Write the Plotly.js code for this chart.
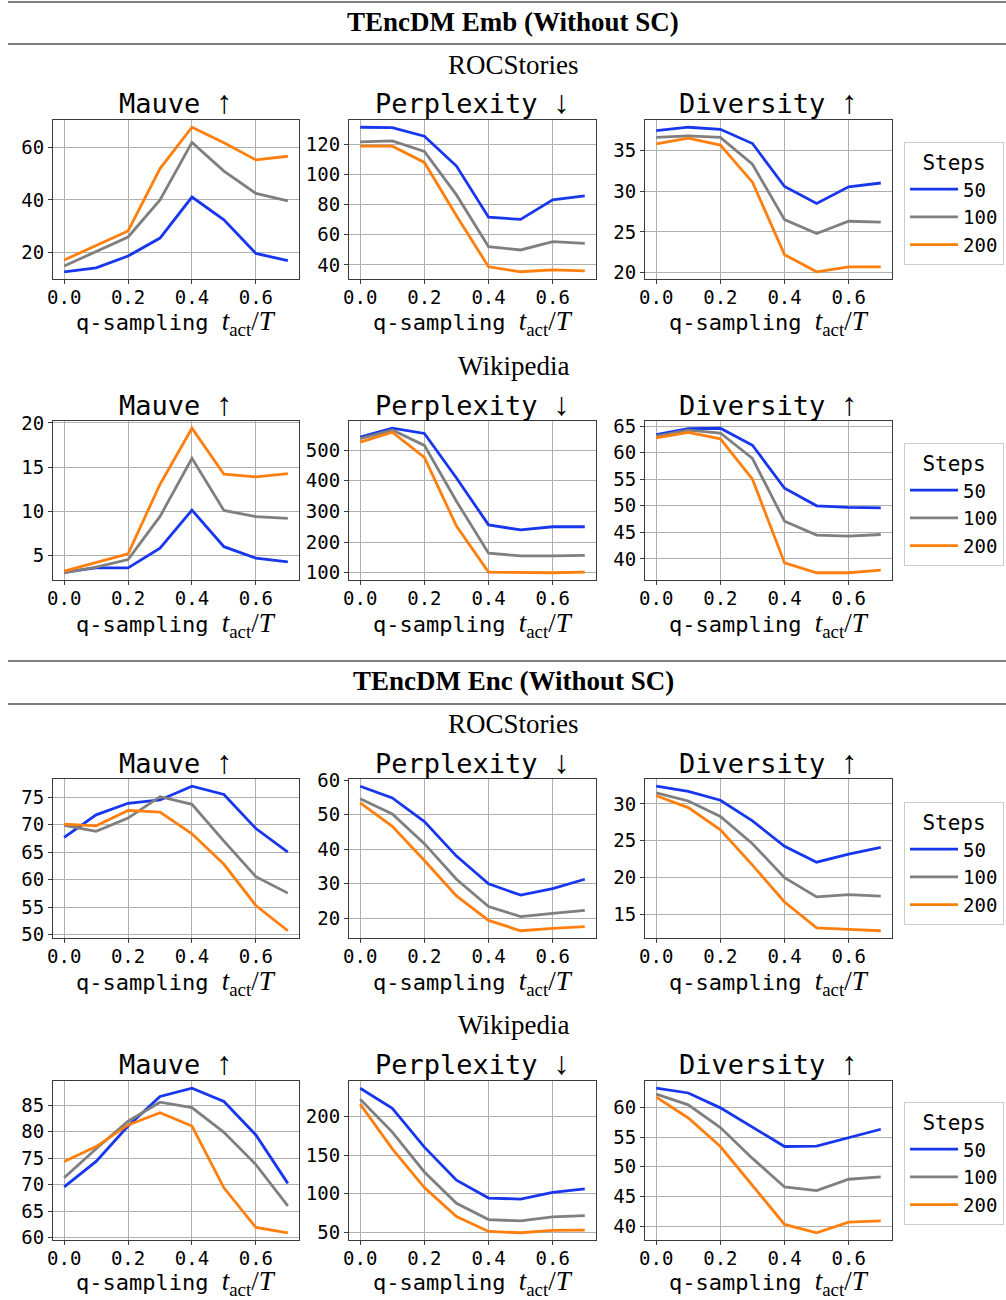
<!DOCTYPE html>
<html><head><meta charset="utf-8">
<script src="https://cdn.plot.ly/plotly-3.0.1.min.js"></script>
<style>body{margin:0;background:#fff}#chart{width:1006px;height:1300px}</style>
</head><body><div id="chart"></div>
<script>
// ---------- data ----------
const qSampling = [0.0, 0.1, 0.2, 0.3, 0.4, 0.5, 0.6, 0.7];
const stepLabels = ['50', '100', '200'];
const xTickVals = [0.0, 0.2, 0.4, 0.6];
const xTickText = ['0.0', '0.2', '0.4', '0.6'];

// TEncDM Emb - ROCStories
const embRocMauve50  = [12.5, 14.0, 18.5, 25.4, 41.1, 32.4, 19.5, 16.8];
const embRocMauve100 = [14.7, 20.4, 25.8, 40.0, 62.0, 51.0, 42.5, 39.6];
const embRocMauve200 = [17.0, 22.5, 28.1, 52.0, 67.8, 61.9, 55.3, 56.7];
const embRocPpl50  = [131.5, 131.2, 125.5, 105.7, 71.7, 70.2, 83.2, 85.8];
const embRocPpl100 = [121.8, 122.4, 115.4, 86.5, 52.1, 49.9, 55.4, 54.3];
const embRocPpl200 = [118.9, 118.9, 108.1, 72.6, 38.7, 35.4, 36.7, 36.0];
const embRocDiv50  = [37.44, 37.85, 37.6, 35.85, 30.57, 28.5, 30.53, 31.0];
const embRocDiv100 = [36.6, 36.8, 36.6, 33.3, 26.5, 24.8, 26.3, 26.2];
const embRocDiv200 = [35.8, 36.5, 35.65, 31.1, 22.2, 20.1, 20.7, 20.7];
// TEncDM Emb - Wikipedia
const embWikiMauve50  = [3.13, 3.6, 3.6, 5.83, 10.14, 6.0, 4.7, 4.29];
const embWikiMauve100 = [3.05, 3.7, 4.55, 9.43, 16.0, 10.1, 9.39, 9.2];
const embWikiMauve200 = [3.24, 4.2, 5.19, 13.06, 19.4, 14.2, 13.9, 14.26];
const embWikiPpl50  = [542, 571, 554, 409, 256, 239.5, 250, 250];
const embWikiPpl100 = [537, 565, 515, 333, 164, 155, 155, 157];
const embWikiPpl200 = [526, 558, 476, 252, 102, 100, 100, 102];
const embWikiDiv50  = [63.4, 64.5, 64.6, 61.4, 53.3, 50.0, 49.7, 49.6];
const embWikiDiv100 = [63.1, 64.25, 63.7, 58.9, 47.1, 44.5, 44.3, 44.6];
const embWikiDiv200 = [62.8, 63.8, 62.6, 55.0, 39.25, 37.4, 37.4, 37.9];
// TEncDM Enc - ROCStories
const encRocMauve50  = [67.7, 71.8, 73.9, 74.5, 77.0, 75.5, 69.3, 65.0];
const encRocMauve100 = [69.9, 68.8, 71.2, 75.1, 73.7, 67.0, 60.55, 57.55];
const encRocMauve200 = [70.1, 69.8, 72.6, 72.3, 68.35, 62.8, 55.3, 50.7];
const encRocPpl50  = [58.2, 54.8, 48.0, 38.0, 30.0, 26.7, 28.6, 31.3];
const encRocPpl100 = [54.6, 50.2, 41.6, 31.3, 23.4, 20.5, 21.4, 22.3];
const encRocPpl200 = [53.4, 46.6, 36.7, 26.5, 19.4, 16.4, 17.1, 17.6];
const encRocDiv50  = [32.4, 31.7, 30.5, 27.7, 24.25, 22.1, 23.2, 24.1];
const encRocDiv100 = [31.5, 30.4, 28.3, 24.6, 20.0, 17.4, 17.7, 17.5];
const encRocDiv200 = [31.1, 29.5, 26.5, 21.7, 16.7, 13.2, 13.0, 12.8];
// TEncDM Enc - Wikipedia
const encWikiMauve50  = [69.6, 74.4, 81.1, 86.7, 88.25, 85.75, 79.4, 70.25];
const encWikiMauve100 = [71.3, 76.8, 82.0, 85.6, 84.6, 79.9, 73.8, 66.0];
const encWikiMauve200 = [74.4, 77.2, 81.3, 83.6, 81.1, 69.4, 61.9, 60.9];
const encWikiPpl50  = [237, 211, 160.5, 117.5, 94.3, 93, 101.6, 106.3];
const encWikiPpl100 = [222.8, 180, 128.2, 87.4, 66.3, 64.6, 69.8, 71.5];
const encWikiPpl200 = [216.3, 158.3, 108, 70.2, 50.9, 49.2, 52.2, 52.6];
const encWikiDiv50  = [63.2, 62.4, 59.9, 56.7, 53.4, 53.45, 54.9, 56.3];
const encWikiDiv100 = [62.2, 60.4, 56.6, 51.4, 46.6, 46.0, 47.9, 48.3];
const encWikiDiv200 = [61.7, 58.2, 53.4, 46.9, 40.3, 38.9, 40.7, 40.9];

const metricNames = ['Mauve', 'Perplexity', 'Diversity'];
const metricArrows = ['↑', '↓', '↑'];
const blockTitles = ['TEncDM Emb (Without SC)', 'TEncDM Enc (Without SC)'];
const datasetTitles = ['ROCStories', 'Wikipedia', 'ROCStories', 'Wikipedia'];

// ---------- layout helpers ----------
const W = 1006, H = 1300;
const MONO = 'DejaVu Sans Mono';
const SERIF = 'Liberation Serif';
const lineColors = ['#1736ee', '#7f7f7f', '#ff7f0e'];
const colX = [[53, 299], [349, 596], [645, 892]];
const rowY = [[120, 279], [421, 580], [779, 938], [1081, 1240]];
const titleY = [102, 404, 762, 1063];
const xTitleY = [323, 625, 983, 1283];
const legendTop = [142, 443, 802, 1102];

const panels = [
  {row:0, col:0, s:[embRocMauve50, embRocMauve100, embRocMauve200], dtick:20},
  {row:0, col:1, s:[embRocPpl50, embRocPpl100, embRocPpl200], dtick:20},
  {row:0, col:2, s:[embRocDiv50, embRocDiv100, embRocDiv200], dtick:5},
  {row:1, col:0, s:[embWikiMauve50, embWikiMauve100, embWikiMauve200], dtick:5},
  {row:1, col:1, s:[embWikiPpl50, embWikiPpl100, embWikiPpl200], dtick:100},
  {row:1, col:2, s:[embWikiDiv50, embWikiDiv100, embWikiDiv200], dtick:5},
  {row:2, col:0, s:[encRocMauve50, encRocMauve100, encRocMauve200], dtick:5},
  {row:2, col:1, s:[encRocPpl50, encRocPpl100, encRocPpl200], dtick:10},
  {row:2, col:2, s:[encRocDiv50, encRocDiv100, encRocDiv200], dtick:5},
  {row:3, col:0, s:[encWikiMauve50, encWikiMauve100, encWikiMauve200], dtick:5},
  {row:3, col:1, s:[encWikiPpl50, encWikiPpl100, encWikiPpl200], dtick:50},
  {row:3, col:2, s:[encWikiDiv50, encWikiDiv100, encWikiDiv200], dtick:5}
];

const px = v => v / W;
const py = v => 1 - v / H;

const traces = [];
const layout = {
  width: W, height: H,
  margin: {l:0, r:0, t:0, b:0},
  paper_bgcolor: '#fff', plot_bgcolor: '#fff',
  font: {family: MONO, color: '#000'},
  annotations: [], shapes: []
};

const xTitleText = 'q-sampling <span style="font-family:\'Liberation Serif\';font-size:27px"><i>t</i><sub>act</sub>/<i>T</i></span>';

panels.forEach((p, i) => {
  const n = i + 1;
  const suf = n === 1 ? '' : String(n);
  const legName = p.row === 0 ? 'legend' : 'legend' + (p.row + 1);
  p.s.forEach((ys, k) => {
    const t = {
      x: qSampling, y: ys, type: 'scatter', mode: 'lines',
      xaxis: 'x' + suf, yaxis: 'y' + suf,
      name: stepLabels[k],
      line: {color: lineColors[k], width: 2.8},
      showlegend: p.col === 2
    };
    if (p.col === 2) t.legend = legName;
    traces.push(t);
  });
  const all = [].concat(...p.s);
  const mn = Math.min(...all), mx = Math.max(...all);
  const pad = (mx - mn) * 0.05;
  layout['xaxis' + suf] = {
    domain: [px(colX[p.col][0]), px(colX[p.col][1])],
    anchor: 'y' + suf,
    range: [-0.035, 0.735],
    tickvals: xTickVals, ticktext: xTickText,
    showgrid: true, gridcolor: '#b0b0b0', gridwidth: 1,
    zeroline: false, showline: true, mirror: true, linecolor: '#3a3a3a', linewidth: 1,
    ticks: 'outside', ticklen: 4, tickcolor: '#3a3a3a',
    ticklabelstandoff: -3,
    tickfont: {family: MONO, size: 19, color: '#000'}
  };
  layout['yaxis' + suf] = {
    domain: [py(rowY[p.row][1]), py(rowY[p.row][0])],
    anchor: 'x' + suf,
    range: [mn - pad, mx + pad],
    tick0: 0, dtick: p.dtick,
    showgrid: true, gridcolor: '#b0b0b0', gridwidth: 1,
    zeroline: false, showline: true, mirror: true, linecolor: '#3a3a3a', linewidth: 1,
    ticks: 'outside', ticklen: 4, tickcolor: '#3a3a3a',
    tickfont: {family: MONO, size: 19, color: '#000'}
  };
  const cx = px((colX[p.col][0] + colX[p.col][1]) / 2);
  layout.annotations.push({
    xref: 'paper', yref: 'paper', x: cx, y: py(titleY[p.row]),
    xanchor: 'center', yanchor: 'middle', showarrow: false,
    text: metricNames[p.col] + ' <span style="font-family:\'Liberation Serif\';font-size:32px">' + metricArrows[p.col] + '</span>',
    font: {family: MONO, size: 27, color: '#000'}
  });
  layout.annotations.push({
    xref: 'paper', yref: 'paper', x: cx, y: py(xTitleY[p.row]),
    xanchor: 'center', yanchor: 'middle', showarrow: false,
    text: xTitleText, font: {family: MONO, size: 22, color: '#000'}
  });
});

// legends
legendTop.forEach((top, r) => {
  const name = r === 0 ? 'legend' : 'legend' + (r + 1);
  layout[name] = {
    x: px(904), xanchor: 'left', y: py(top), yanchor: 'top',
    bgcolor: '#fff', bordercolor: '#cccccc', borderwidth: 1,
    font: {family: MONO, size: 19, color: '#000'},
    title: {text: 'Steps', side: 'top center', font: {family: MONO, size: 21, color: '#000'}},
    itemwidth: 48, tracegroupgap: 0
  };
});

// block headers & dataset titles
const headerY = [22, 681];
headerY.forEach((y, b) => {
  layout.annotations.push({
    xref: 'paper', yref: 'paper', x: px(513), y: py(y),
    xanchor: 'center', yanchor: 'middle', showarrow: false,
    text: '<b>' + blockTitles[b] + '</b>', font: {family: SERIF, size: 27, color: '#000'}
  });
});
const dsY = [65, 366, 724, 1025];
dsY.forEach((y, d) => {
  layout.annotations.push({
    xref: 'paper', yref: 'paper', x: px(513), y: py(y),
    xanchor: 'center', yanchor: 'middle', showarrow: false,
    text: datasetTitles[d], font: {family: SERIF, size: 27, color: '#000'}
  });
});
[2, 44, 661, 704].forEach(y => {
  layout.shapes.push({
    type: 'line', xref: 'paper', yref: 'paper',
    x0: px(8), x1: 1, y0: py(y), y1: py(y),
    line: {color: '#000', width: 1}
  });
});

Plotly.newPlot('chart', traces, layout, {displayModeBar: false, staticPlot: true});
</script></body></html>
